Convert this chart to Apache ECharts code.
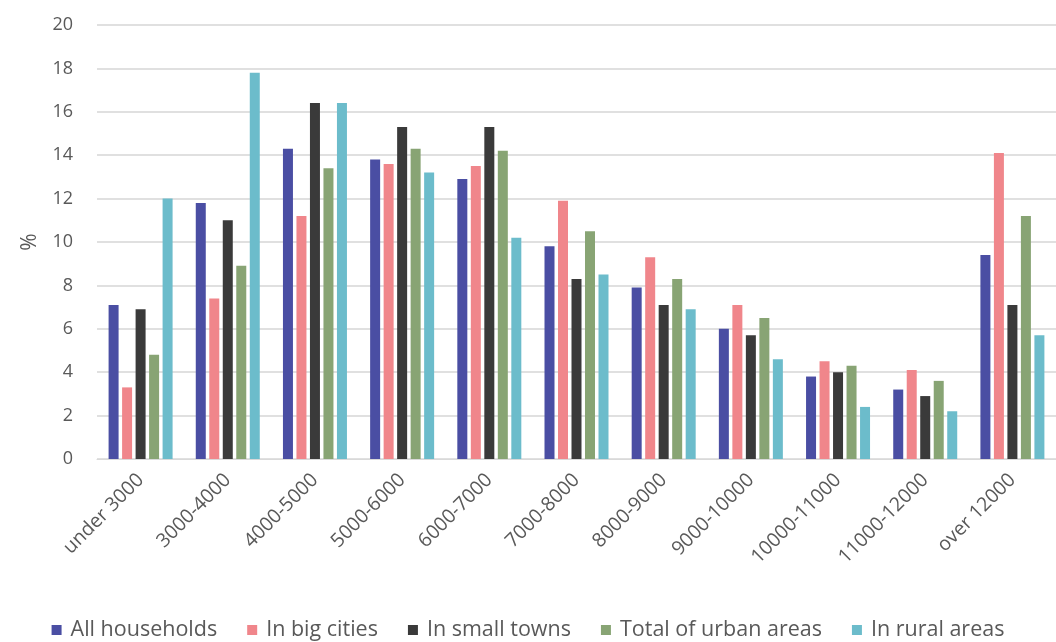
<!DOCTYPE html>
<html>
<head>
<meta charset="utf-8">
<script src="https://cdn.jsdelivr.net/npm/echarts@6/dist/echarts.min.js"></script>
<style>
html,body{margin:0;padding:0;background:#fff;}
#chart{width:1056px;height:642px;}
</style>
</head>
<body>
<div id="chart"></div>
<script>
const categories = ['under 3000','3000-4000','4000-5000','5000-6000','6000-7000','7000-8000','8000-9000','9000-10000','10000-11000','11000-12000','over 12000'];
const allHouseholds = [7.1, 11.8, 14.3, 13.8, 12.9, 9.8, 7.9, 6.0, 3.8, 3.2, 9.4];
const bigCities     = [3.3, 7.4, 11.2, 13.6, 13.5, 11.9, 9.3, 7.1, 4.5, 4.1, 14.1];
const smallTowns    = [6.9, 11.0, 16.4, 15.3, 15.3, 8.3, 7.1, 5.7, 4.0, 2.9, 7.1];
const urbanTotal    = [4.8, 8.9, 13.4, 14.3, 14.2, 10.5, 8.3, 6.5, 4.3, 3.6, 11.2];
const ruralAreas    = [12.0, 17.8, 16.4, 13.2, 10.2, 8.5, 6.9, 4.6, 2.4, 2.2, 5.7];
const seriesNames = ['All households','In big cities','In small towns','Total of urban areas','In rural areas'];
const yTicks = {min: 0, max: 20, interval: 2};

const colors = ['#4a4ea3','#f0868b','#3a3a3a','#88a474','#6cbccb'];
const seriesData = [allHouseholds, bigCities, smallTowns, urbanTotal, ruralAreas];
const font = '"Open Sans", "Noto Sans", sans-serif';

const chart = echarts.init(document.getElementById('chart'), null, {renderer: 'canvas'});
chart.setOption({
  animation: false,
  color: colors,
  textStyle: {fontFamily: font},
  grid: {left: 97, right: -8, top: 25, bottom: 183, containLabel: false},
  legend: {
    data: seriesNames,
    bottom: -4,
    left: 'center',
    itemWidth: 10,
    itemHeight: 10,
    itemGap: 30,
    icon: 'rect',
    textStyle: {fontSize: 21.5, color: '#595959', fontFamily: font, padding: [0, 0, 0, 4]}
  },
  xAxis: {
    type: 'category',
    data: categories,
    axisLine: {show: true, lineStyle: {color: '#d9d9d9', width: 1}},
    axisTick: {show: false},
    axisLabel: {rotate: 45, fontSize: 19.5, color: '#595959', margin: 18, interval: 0, fontFamily: font}
  },
  yAxis: {
    type: 'value',
    min: yTicks.min, max: yTicks.max, interval: yTicks.interval,
    name: '%',
    nameLocation: 'middle',
    nameGap: 56,
    nameRotate: 90,
    nameTextStyle: {fontSize: 21, color: '#595959', fontFamily: font},
    axisLine: {show: false},
    axisTick: {show: false},
    axisLabel: {fontSize: 18, color: '#595959', margin: 24, fontFamily: font},
    splitLine: {lineStyle: {color: '#d6d6d6', width: 1.5}}
  },
  series: seriesNames.map((n, i) => ({
    name: n,
    type: 'bar',
    data: seriesData[i],
    barWidth: 10,
    barGap: '35%',
    barCategoryGap: '27%',
    itemStyle: {color: colors[i]}
  }))
});
</script>
</body>
</html>
